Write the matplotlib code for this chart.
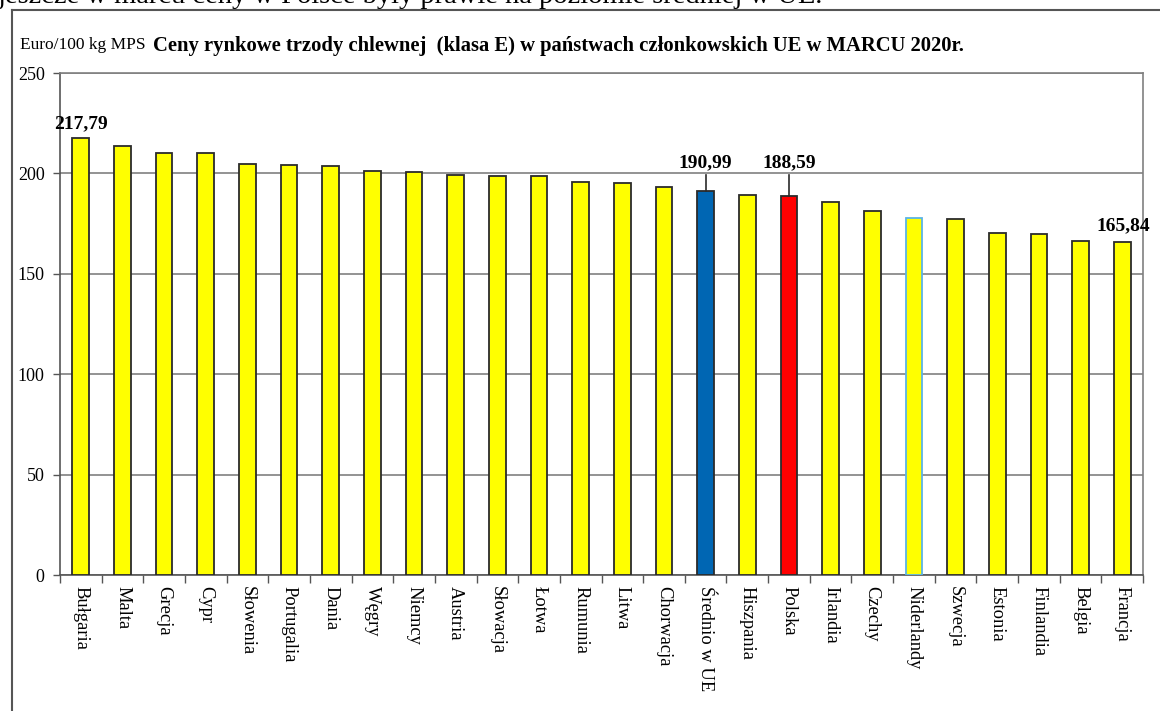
import matplotlib
matplotlib.use("Agg")
import matplotlib.pyplot as plt
from matplotlib.lines import Line2D
import numpy as np

countries = ["Bułgaria", "Malta", "Grecja", "Cypr", "Słowenia", "Portugalia", "Dania",
             "Węgry", "Niemcy", "Austria", "Słowacja", "Łotwa", "Rumunia", "Litwa",
             "Chorwacja", "Średnio w UE", "Hiszpania", "Polska", "Irlandia", "Czechy",
             "Niderlandy", "Szwecja", "Estonia", "Finlandia", "Belgia", "Francja"]
prices = [217.79, 213.8, 210.4, 210.0, 204.7, 204.3, 203.9,
          201.2, 200.8, 199.0, 198.9, 198.8, 195.6, 195.1,
          193.2, 190.99, 189.3, 188.59, 185.6, 181.4,
          178.0, 177.3, 170.3, 169.8, 166.3, 165.84]
yticks = [0, 50, 100, 150, 200, 250]
labelled = ["Bułgaria", "Średnio w UE", "Polska", "Francja"]

plt.rcParams['font.family'] = ['Liberation Serif', 'DejaVu Serif']

W, H = 1160, 711
fig = plt.figure(figsize=(W / 100, H / 100), dpi=100)
ax = fig.add_axes([60 / W, 1 - 575 / H, (1143 - 60) / W, (575 - 73) / H])

colors = []
edges = []
for c in countries:
    if c == "Średnio w UE":
        colors.append("#0066B3")
    elif c == "Polska":
        colors.append("#FF0000")
    else:
        colors.append("#FFFF00")
    edges.append("#5AB4E6" if c == "Niderlandy" else "#2b2b2b")

x = np.arange(len(countries))
ax.bar(x, prices, width=0.40, color=colors, edgecolor=edges, linewidth=1.3, zorder=3)

ax.set_xlim(-0.5, len(countries) - 0.5)
ax.set_ylim(0, 250)
ax.set_yticks(yticks)
ax.set_yticklabels([str(v) for v in yticks], fontsize=13)
ax.yaxis.grid(True, color="#808080", linewidth=1.2, zorder=0)
ax.tick_params(axis='y', direction='out', length=5, width=1, color="#555555", pad=6)

ax.set_xticks(np.arange(-0.5, len(countries), 1))
ax.set_xticklabels([])
ax.tick_params(axis='x', which='major', direction='out', length=6, width=1, color="#555555")
ax.set_xticks(x, minor=True)
ax.set_xticklabels(countries, minor=True, rotation=270, fontsize=13.3, va='top', ha='center')
ax.tick_params(axis='x', which='minor', length=0, pad=8)

for side in ["top", "right"]:
    ax.spines[side].set_color("#808080")
    ax.spines[side].set_linewidth(1.2)
for side in ["left", "bottom"]:
    ax.spines[side].set_color("#555555")
    ax.spines[side].set_linewidth(1.2)

# value labels
for c in labelled:
    i = countries.index(c)
    v = prices[i]
    txt = f"{v:.2f}".replace(".", ",")
    if c in ("Średnio w UE", "Polska"):
        ax.text(i, 205.5, txt, ha='center', va='center', fontsize=14, fontweight='bold', zorder=5)
        ax.plot([i, i], [v, 199], color="#2b2b2b", linewidth=1.2, zorder=4)
    elif c == "Bułgaria":
        ax.text(i, 224.6, txt, ha='center', va='center', fontsize=14, fontweight='bold',
                zorder=5, clip_on=False)
    else:
        ax.text(i + 0.02, 173.8, txt, ha='center', va='center', fontsize=14,
                fontweight='bold', zorder=5, clip_on=False)

# chart titles
fig.text(20 / W, 1 - 45 / H, "Euro/100 kg MPS", fontsize=12.5, ha='left', va='center')
fig.text(153 / W, 1 - 46 / H,
         "Ceny rynkowe trzody chlewnej  (klasa E) w państwach członkowskich UE w MARCU 2020r.",
         fontsize=14.9, fontweight='bold', ha='left', va='center')

# outer frame of the embedded chart
fig.add_artist(Line2D([12 / W, 12 / W], [0, 1 - 10 / H], transform=fig.transFigure,
                      color="#555555", linewidth=1.5))
fig.add_artist(Line2D([12 / W, 1], [1 - 10 / H, 1 - 10 / H], transform=fig.transFigure,
                      color="#555555", linewidth=1.5))

# cut-off text line from the surrounding document
fig.text(-2 / W, 1 - 3 / H,
         "jeszcze w marcu ceny w Polsce były prawie na poziomie średniej w UE.",
         fontsize=20.5, ha='left', va='baseline')

fig.savefig("out.png", dpi=100)
